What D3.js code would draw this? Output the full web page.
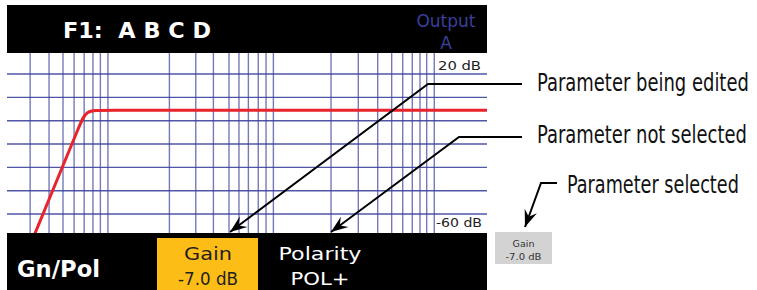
<!DOCTYPE html>
<html>
<head>
<meta charset="utf-8">
<script src="https://cdn.jsdelivr.net/npm/d3@7"></script>
<style>
  body { margin: 0; background: #fff; }
  svg { display: block; }
</style>
</head>
<body>
<div id="viz"></div>
<script>
const gridFreqs = [13.9, 18.2, 22.2, 26, 30, 34, 37.8, 42.1,
  101, 147, 189, 236, 272, 311, 358, 400, 444,
  1009, 1488, 1961, 2393, 2800, 3210, 3581, 3940, 4390];
const gridDb = [20, 6.7, -6.7, -20, -33.3, -46.7, -60];
const scaleLabels = ['20 dB', '-60 dB'];

// filter response (control points of the drawn curve)
const responseFreq = [14.5, 21.3, 28.2, 30.7, 38.6, 156, 9300];
const responseDb = [-73.7, -36.3, -9.2, -0.74, -0.74, -0.74, -0.74];

const title = 'F1:  A B C D';
const outputLabel = ['Output', 'A'];
const pageName = 'Gn/Pol';
const paramNames = ['Gain', 'Polarity'];
const paramValues = ['-7.0 dB', 'POL+'];
const notes = ['Parameter being edited', 'Parameter not selected', 'Parameter selected'];

const W = 757, H = 290;
const screen = {left: 7, right: 487, top: 5, header: 53, footer: 233, bottom: 290};
const dispFont = '"DejaVu Sans", Verdana, sans-serif';
const noteFont = '"Liberation Sans Narrow", "DejaVu Sans Condensed", "Open Sans", sans-serif';

const svg = d3.select('#viz')
  .append('svg')
  .attr('width', W)
  .attr('height', H);

const x = d3.scaleLog()
  .domain([10, 9300])
  .range([screen.left, screen.right]);

const y = d3.scaleLinear()
  .domain([-60, 20])
  .range([214, 74]);

// plot area
svg.append('clipPath').attr('id', 'plotClip')
  .append('rect')
  .attr('x', screen.left)
  .attr('y', screen.header)
  .attr('width', screen.right - screen.left)
  .attr('height', screen.footer - screen.header);

const plot = svg.append('g').attr('clip-path', 'url(#plotClip)');

plot.selectAll('.vgrid')
  .data(gridFreqs)
  .enter()
  .append('line')
  .attr('class', 'vgrid')
  .attr('x1', d => x(d))
  .attr('x2', d => x(d))
  .attr('y1', screen.header)
  .attr('y2', screen.footer)
  .attr('stroke', '#5d62ad')
  .attr('stroke-opacity', 0.85)
  .attr('stroke-width', 1.4);

plot.selectAll('.hgrid')
  .data(gridDb)
  .enter()
  .append('line')
  .attr('class', 'hgrid')
  .attr('x1', screen.left)
  .attr('x2', screen.right)
  .attr('y1', d => y(d))
  .attr('y2', d => y(d))
  .attr('stroke', '#3d429c')
  .attr('stroke-opacity', 0.9)
  .attr('stroke-width', 1.3);

const line = d3.line()
  .x((d, i) => x(responseFreq[i]))
  .y(d => y(d))
  .curve(d3.curveBasis);

plot.append('path')
  .datum(responseDb)
  .attr('d', line)
  .attr('fill', 'none')
  .attr('stroke', '#e8232b')
  .attr('stroke-width', 3);

// range labels
svg.append('text')
  .attr('x', 438)
  .attr('y', y(20) - 4)
  .attr('font-family', dispFont)
  .attr('font-size', 12)
  .attr('fill', '#222')
  .attr('textLength', 43)
  .attr('lengthAdjust', 'spacingAndGlyphs')
  .text(scaleLabels[0]);

svg.append('text')
  .attr('x', 436)
  .attr('y', y(-60) + 13)
  .attr('font-family', dispFont)
  .attr('font-size', 12)
  .attr('fill', '#222')
  .attr('textLength', 46)
  .attr('lengthAdjust', 'spacingAndGlyphs')
  .text(scaleLabels[1]);

// header
svg.append('rect')
  .attr('x', screen.left)
  .attr('y', screen.top)
  .attr('width', screen.right - screen.left)
  .attr('height', screen.header - screen.top)
  .attr('fill', '#000');

svg.append('text')
  .attr('x', 63)
  .attr('y', 38)
  .attr('font-family', dispFont)
  .attr('font-weight', 'bold')
  .attr('font-size', 22)
  .attr('fill', '#fff')
  .attr('textLength', 148)
  .attr('lengthAdjust', 'spacingAndGlyphs')
  .attr('xml:space', 'preserve')
  .text(title);

svg.selectAll('.output')
  .data(outputLabel)
  .enter()
  .append('text')
  .attr('class', 'output')
  .attr('x', 446)
  .attr('y', (d, i) => 27 + i * 22)
  .attr('text-anchor', 'middle')
  .attr('font-family', dispFont)
  .attr('font-size', 17)
  .attr('fill', '#3a3f9c')
  .text(d => d);

// footer
svg.append('rect')
  .attr('x', screen.left)
  .attr('y', screen.footer)
  .attr('width', screen.right - screen.left)
  .attr('height', screen.bottom - screen.footer)
  .attr('fill', '#000');

svg.append('text')
  .attr('x', 17)
  .attr('y', 277)
  .attr('font-family', dispFont)
  .attr('font-weight', 'bold')
  .attr('font-size', 23)
  .attr('fill', '#fff')
  .attr('textLength', 83)
  .attr('lengthAdjust', 'spacingAndGlyphs')
  .text(pageName);

svg.append('rect')
  .attr('x', 157)
  .attr('y', 238)
  .attr('width', 101)
  .attr('height', 52)
  .attr('fill', '#fbbd16');

const paramX = [208, 320];
const paramColor = ['#231f20', '#fff'];
const nameW = [48, 83];
const valueW = [60, 59];

paramNames.forEach((name, i) => {
  svg.append('text')
    .attr('x', paramX[i])
    .attr('y', 260)
    .attr('text-anchor', 'middle')
    .attr('font-family', dispFont)
    .attr('font-size', 18)
    .attr('fill', paramColor[i])
    .attr('textLength', nameW[i])
    .attr('lengthAdjust', 'spacingAndGlyphs')
    .text(name);
  svg.append('text')
    .attr('x', paramX[i])
    .attr('y', 285)
    .attr('text-anchor', 'middle')
    .attr('font-family', dispFont)
    .attr('font-size', 18)
    .attr('fill', paramColor[i])
    .attr('textLength', valueW[i])
    .attr('lengthAdjust', 'spacingAndGlyphs')
    .text(paramValues[i]);
});

// small "selected" sample
svg.append('rect')
  .attr('x', 495)
  .attr('y', 232)
  .attr('width', 57)
  .attr('height', 32)
  .attr('fill', '#d3d3d3');

svg.append('text')
  .attr('x', 523.5)
  .attr('y', 247)
  .attr('text-anchor', 'middle')
  .attr('font-family', dispFont)
  .attr('font-size', 9.5)
  .attr('fill', '#333')
  .text(paramNames[0]);

svg.append('text')
  .attr('x', 523.5)
  .attr('y', 260)
  .attr('text-anchor', 'middle')
  .attr('font-family', dispFont)
  .attr('font-size', 9.5)
  .attr('fill', '#333')
  .attr('textLength', 36)
  .attr('lengthAdjust', 'spacingAndGlyphs')
  .text(paramValues[0]);

// callouts: elbow point, end of the horizontal run, arrow tip, text position
const callouts = [
  {elbow: [428, 84], end: [522, 84], tip: [230, 232], tx: 537, ty: 91, tw: 212},
  {elbow: [459, 137], end: [522, 137], tip: [331, 232], tx: 537, ty: 143, tw: 210},
  {elbow: [541, 183], end: [557, 183], tip: [525, 227], tx: 567, ty: 193, tw: 172}
];

function arrowHead(from, tip) {
  const a = Math.atan2(tip[1] - from[1], tip[0] - from[0]);
  const len = 17, half = 6.5, back = 11;
  const bx = tip[0] - len * Math.cos(a), by = tip[1] - len * Math.sin(a);
  const nx = -Math.sin(a), ny = Math.cos(a);
  const mx = tip[0] - back * Math.cos(a), my = tip[1] - back * Math.sin(a);
  return `M${tip[0]},${tip[1]}L${bx + nx * half},${by + ny * half}L${mx},${my}L${bx - nx * half},${by - ny * half}Z`;
}

callouts.forEach((c, i) => {
  svg.append('polyline')
    .attr('points', [c.end, c.elbow, c.tip].map(p => p.join(',')).join(' '))
    .attr('fill', 'none')
    .attr('stroke', '#000')
    .attr('stroke-width', 2);
  svg.append('path')
    .attr('d', arrowHead(c.elbow, c.tip))
    .attr('fill', '#000');
  // squeeze the note horizontally to the width it has in the figure
  const g = svg.append('g');
  const t = g.append('text')
    .attr('font-family', noteFont)
    .attr('font-size', 24)
    .attr('fill', '#111')
    .text(notes[i]);
  const natural = t.node().getComputedTextLength();
  g.attr('transform', `translate(${c.tx},${c.ty}) scale(${c.tw / natural},1)`);
});
</script>
</body>
</html>
